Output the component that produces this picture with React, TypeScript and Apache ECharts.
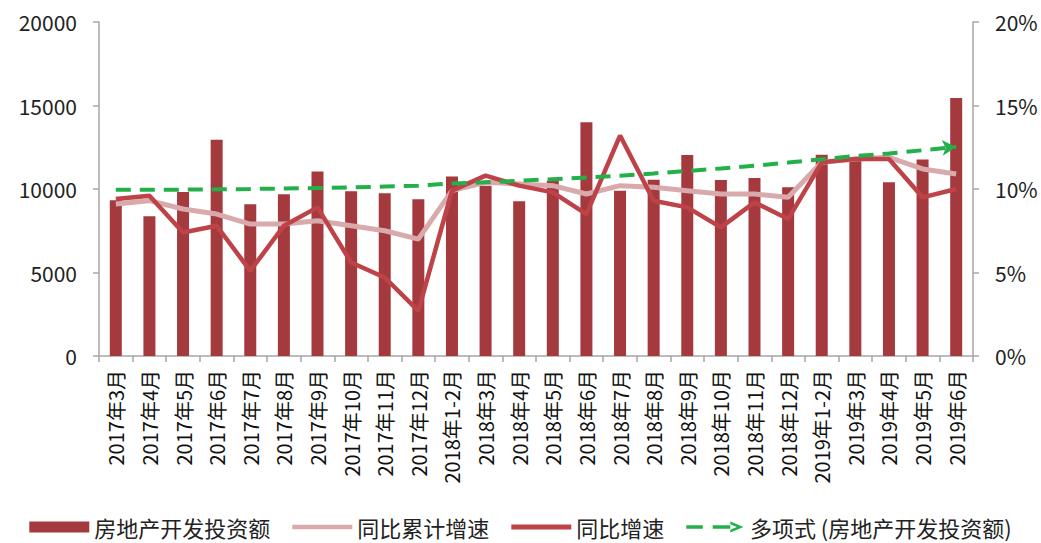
import React, { useEffect, useRef } from "react";
import * as echarts from "echarts";

const categories = [
  "2017年3月", "2017年4月", "2017年5月", "2017年6月", "2017年7月", "2017年8月",
  "2017年9月", "2017年10月", "2017年11月", "2017年12月", "2018年1-2月", "2018年3月",
  "2018年4月", "2018年5月", "2018年6月", "2018年7月", "2018年8月", "2018年9月",
  "2018年10月", "2018年11月", "2018年12月", "2019年1-2月", "2019年3月", "2019年4月",
  "2019年5月", "2019年6月",
];

const investment = [
  9330, 8370, 9820, 12950, 9080, 9680, 11050, 9870, 9750, 9380, 10750, 10200,
  9270, 10500, 14000, 9890, 10550, 12040, 10540, 10660, 10100, 12050, 11700,
  10400, 11770, 15450,
];

const cumulativeGrowth = [
  9.1, 9.3, 8.8, 8.5, 7.9, 7.9, 8.1, 7.8, 7.5, 7.0, 9.9, 10.4, 10.3, 10.2, 9.7,
  10.2, 10.1, 9.9, 9.7, 9.7, 9.5, 11.6, 11.8, 11.9, 11.2, 10.9,
];

const monthlyGrowth = [
  9.4, 9.6, 7.4, 7.8, 5.1, 7.8, 8.9, 5.6, 4.7, 2.7, 9.9, 10.8, 10.2, 9.8, 8.5,
  13.2, 9.3, 8.9, 7.7, 9.2, 8.2, 11.6, 11.8, 11.8, 9.5, 10.0,
];

const trend = [
  9950, 9950, 9960, 9980, 10000, 10030, 10060, 10090, 10150, 10200, 10330, 10400,
  10490, 10590, 10690, 10790, 10930, 11080, 11230, 11390, 11580, 11780, 11980,
  12120, 12320, 12520,
];

const leftTicks = { min: 0, max: 20000, interval: 5000 };
const rightTicks = { min: 0, max: 20, interval: 5 };

const seriesNames = ["房地产开发投资额", "同比累计增速", "同比增速", "多项式 (房地产开发投资额)"];

const FONT = "'Noto Sans CJK SC', 'Noto Sans', sans-serif";
const AXIS_COLOR = "#A6A6A6";
const BAR_COLOR = "#A53A3E";
const PINK = "#D9AAAC";
const RED = "#BE4348";
const GREEN = "#22B04B";

export default function App() {
  const ref = useRef<HTMLDivElement>(null);

  useEffect(() => {
    if (!ref.current) return;
    const chart = echarts.init(ref.current, undefined, { renderer: "svg" });

    const trendData = trend.map((v, i) =>
      i === trend.length - 1
        ? { value: v, symbol: "arrow", symbolSize: [12, 14], symbolRotate: -86, itemStyle: { color: GREEN } }
        : { value: v, symbol: "none" }
    );

    chart.setOption({
      animation: false,
      backgroundColor: "#ffffff",
      textStyle: { fontFamily: FONT },
      grid: { left: 99, right: 68, top: 22, bottom: 187, containLabel: false },
      legend: {
        bottom: 0,
        left: "center",
        itemWidth: 60,
        itemHeight: 11,
        itemGap: 22,
        symbolKeepAspect: true,
        textStyle: { fontSize: 22, color: "#222", fontFamily: FONT },
        data: [
          { name: seriesNames[0], icon: "path://M0,0H60V11H0Z" },
          { name: seriesNames[1], icon: "path://M0,0H60V4.5H0Z" },
          { name: seriesNames[2], icon: "path://M0,0H60V5H0Z" },
          {
            name: seriesNames[3],
            icon: "path://M0,4H15V7H0Z M24,4H40V7H24Z M40,0.5L52,5.5L40,10.5L40,8L46,5.5L40,3Z",
          },
        ],
      },
      xAxis: {
        type: "category",
        data: categories,
        boundaryGap: true,
        axisLine: { lineStyle: { color: AXIS_COLOR, width: 1.5 } },
        axisTick: { show: true, length: 6, lineStyle: { color: AXIS_COLOR, width: 1.5 } },
        axisLabel: {
          rotate: 90,
          interval: 0,
          margin: 14,
          fontSize: 20,
          color: "#111",
          fontFamily: FONT,
        },
        splitLine: { show: false },
      },
      yAxis: [
        {
          type: "value",
          ...leftTicks,
          position: "left",
          axisLine: { show: true, lineStyle: { color: AXIS_COLOR, width: 1.5 } },
          axisTick: { show: true, length: 6, lineStyle: { color: AXIS_COLOR, width: 1.5 } },
          axisLabel: {
            fontSize: 21,
            color: "#222",
            margin: 22,
            fontFamily: FONT,
            formatter: (v: number) => String(v),
          },
          splitLine: { show: false },
        },
        {
          type: "value",
          ...rightTicks,
          position: "right",
          axisLine: { show: true, lineStyle: { color: AXIS_COLOR, width: 1.5 } },
          axisTick: { show: true, length: 6, lineStyle: { color: AXIS_COLOR, width: 1.5 } },
          axisLabel: { fontSize: 21, color: "#222", margin: 22, formatter: "{value}%", fontFamily: FONT },
          splitLine: { show: false },
        },
      ],
      series: [
        {
          name: seriesNames[0],
          type: "bar",
          data: investment,
          barWidth: 12,
          itemStyle: { color: BAR_COLOR },
          z: 1,
        },
        {
          name: seriesNames[1],
          type: "line",
          yAxisIndex: 1,
          data: cumulativeGrowth,
          symbol: "none",
          lineStyle: { color: PINK, width: 5 },
          itemStyle: { color: PINK },
          z: 2,
        },
        {
          name: seriesNames[2],
          type: "line",
          yAxisIndex: 1,
          data: monthlyGrowth,
          symbol: "none",
          lineStyle: { color: RED, width: 4.5 },
          itemStyle: { color: RED },
          z: 3,
        },
        {
          name: seriesNames[3],
          type: "line",
          yAxisIndex: 0,
          data: trendData,
          symbol: "none",
          showSymbol: true,
          lineStyle: { color: GREEN, width: 4, type: [15, 9] },
          itemStyle: { color: GREEN },
          z: 4,
        },
      ],
    });

    return () => chart.dispose();
  }, []);

  return (
    <div
      ref={ref}
      style={{ position: "fixed", left: 0, top: 0, width: 1041, height: 543, background: "#fff" }}
    />
  );
}
